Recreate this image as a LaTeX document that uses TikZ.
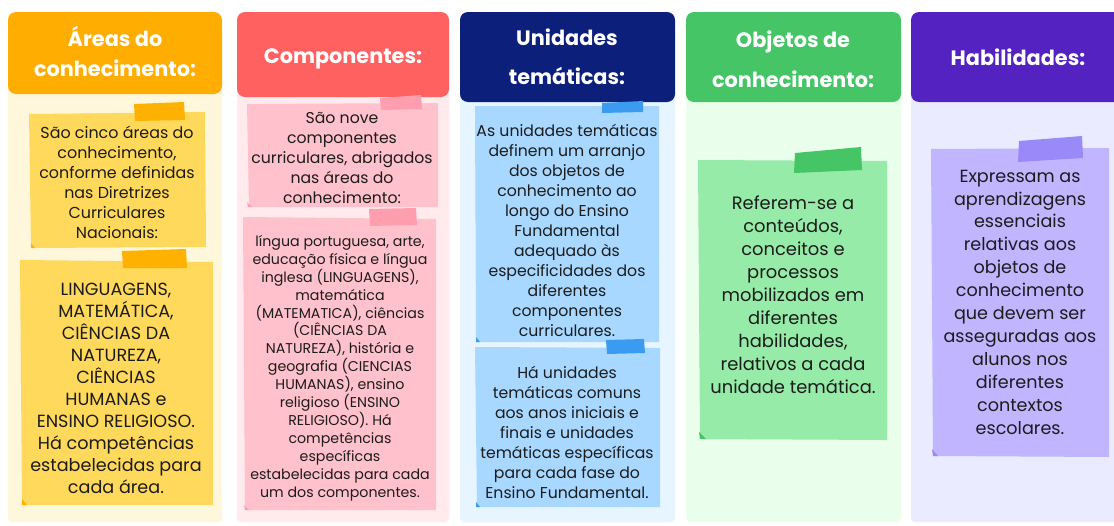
\documentclass[tikz,border=0pt]{standalone}
\usepackage{fontspec}
\setmainfont{Poppins}
\definecolor{txt}{HTML}{1C1C1C}
\definecolor{hA}{HTML}{FFAD00}
\definecolor{bgA}{HTML}{FFF7DB}
\definecolor{stA}{HTML}{FFD95C}
\definecolor{tpA}{HTML}{FFB100}
\definecolor{hB}{HTML}{FF6161}
\definecolor{bgB}{HTML}{FFEBEE}
\definecolor{stB}{HTML}{FFC1CB}
\definecolor{tpB}{HTML}{FF9EAE}
\definecolor{hC}{HTML}{0C1F7A}
\definecolor{bgC}{HTML}{E6F5FF}
\definecolor{stC}{HTML}{A8D8FF}
\definecolor{tpC}{HTML}{3A9BF0}
\definecolor{hD}{HTML}{45C566}
\definecolor{bgD}{HTML}{E9FFEC}
\definecolor{stD}{HTML}{95EBA7}
\definecolor{tpD}{HTML}{45C566}
\definecolor{hE}{HTML}{5522C2}
\definecolor{bgE}{HTML}{EAEBFF}
\definecolor{stE}{HTML}{C1B5FF}
\definecolor{tpE}{HTML}{9A89F8}
\tikzset{
  hdrtext/.style={text=white, align=center, inner sep=0pt, font=\bfseries\fontsize{20.8}{30}\selectfont},
  notetext/.style={text=txt, align=center, inner sep=0pt},
  colbg/.style={rounded corners=4pt},
  hdrbox/.style={rounded corners=8pt},
}
\begin{document}
\begin{tikzpicture}[x=1pt,y=-1pt]
\useasboundingbox (0,0) rectangle (1114,525);
\fill[white] (0,0) rectangle (1114,525);
% ---------- column backgrounds ----------
\fill[bgA, colbg] (8,30) rectangle (222,522);
\fill[bgB, colbg] (237,30) rectangle (449,522);
\fill[bgC, colbg] (460,30) rectangle (675,522);
\fill[bgD, colbg] (686,30) rectangle (901,522);
\fill[bgE, colbg] (911,30) rectangle (1120,522);
% ---------- headers ----------
\fill[hA, hdrbox] (8,12) rectangle (222,94);
\fill[hB, hdrbox] (237,12) rectangle (449,97);
\fill[hC, hdrbox] (460,12) rectangle (675,102);
\fill[hD, hdrbox] (686,12) rectangle (901,102);
\fill[hE, hdrbox] (911,12) rectangle (1124,102);
\node[hdrtext] (h1) at (115,51) {Áreas do\\conhecimento:};
\node[hdrtext] (h2) at (343,59) {Componentes:};
\node[hdrtext, font=\bfseries\fontsize{20.8}{39}\selectfont] (h3) at (567,57) {Unidades\\temáticas:};
\node[hdrtext, font=\bfseries\fontsize{20.8}{40}\selectfont] (h4) at (793,59) {Objetos de\\conhecimento:};
\node[hdrtext] (h5) at (1018,57) {Habilidades:};
% ---------- column 1 ----------
\fill[stA] (29,114) -- (205,112) -- (206,247) -- (31,248) -- cycle;
\fill[tpA] (134,104) -- (184,102) -- (185,120) -- (135,121) -- cycle;
\fill[tpA] (31,243) -- (35,248) -- (31,248) -- cycle;
\node[notetext, font=\fontsize{15.9}{20}\selectfont] (n1a) at (117,182) {São cinco áreas do\\conhecimento,\\conforme definidas\\nas Diretrizes\\Curriculares\\Nacionais:};
\fill[stA] (20,260) -- (213,262) -- (213,505) -- (22,505) -- cycle;
\fill[tpA] (122,251) -- (186,249) -- (187,268) -- (123,268) -- cycle;
\fill[tpA] (22,499) -- (27,505) -- (22,505) -- cycle;
\node[notetext, font=\fontsize{17.6}{22}\selectfont] (n1b) at (116,388) {LINGUAGENS,\\MATEMÁTICA,\\CIÊNCIAS DA\\NATUREZA,\\CIÊNCIAS\\HUMANAS e\\ENSINO RELIGIOSO.\\Há competências\\estabelecidas para\\cada área.};
% ---------- column 2 ----------
\fill[stB] (247,104) -- (438,103) -- (438,207) -- (249,207) -- cycle;
\fill[tpB] (380,98) -- (421,95) -- (422,109) -- (381,110) -- cycle;
\fill[tpB] (247,202) -- (252,207) -- (248,207) -- cycle;
\node[notetext, font=\fontsize{15.7}{20}\selectfont] (n2a) at (342,158) {São nove\\componentes\\curriculares, abrigados\\nas áreas do\\conhecimento:};
\fill[stB] (243,217) -- (436,219) -- (436,510) -- (245,510) -- cycle;
\fill[tpB] (369,209) -- (416,208) -- (417,225) -- (370,226) -- cycle;
\fill[tpB] (244,505) -- (249,510) -- (245,510) -- cycle;
\node[notetext, font=\fontsize{14.2}{17.9}\selectfont] (n2b) at (340,368) {língua portuguesa, arte,\\educação física e língua\\inglesa (LINGUAGENS),\\matemática\\(MATEMATICA), ciências\\(CIÊNCIAS DA\\NATUREZA), história e\\geografia (CIENCIAS\\HUMANAS), ensino\\religioso (ENSINO\\RELIGIOSO). Há\\competências\\específicas\\estabelecidas para cada\\um dos componentes.};
% ---------- column 3 ----------
\fill[stC] (475,106) -- (659,106) -- (659,342) -- (476,342) -- cycle;
\fill[tpC] (602,103) -- (643,101) -- (643,112) -- (602,113) -- cycle;
\fill[tpC] (476,337) -- (480,342) -- (476,342) -- cycle;
\node[notetext, font=\fontsize{15.7}{20}\selectfont] (n3a) at (567,230) {As unidades temáticas\\definem um arranjo\\dos objetos de\\conhecimento ao\\longo do Ensino\\Fundamental\\adequado às\\especificidades dos\\diferentes\\componentes\\curriculares.};
\fill[stC] (475,347) -- (660,348) -- (660,507) -- (477,507) -- cycle;
\fill[tpC] (606,340) -- (644,339) -- (645,353) -- (607,354) -- cycle;
\fill[tpC] (476,502) -- (480,507) -- (476,507) -- cycle;
\node[notetext, font=\fontsize{15.7}{20}\selectfont] (n3b) at (567,432) {Há unidades\\temáticas comuns\\aos anos iniciais e\\finais e unidades\\temáticas específicas\\para cada fase do\\Ensino Fundamental.};
% ---------- column 4 ----------
\fill[stD] (698,160) -- (887,161) -- (887,440) -- (700,439) -- cycle;
\fill[tpD] (795,153) -- (861,147) -- (862,170) -- (794,173) -- cycle;
\fill[tpD] (699,432) -- (706,439) -- (700,439) -- cycle;
\node[notetext, font=\fontsize{17.9}{23}\selectfont] (n4) at (793,295) {Referem-se a\\conteúdos,\\conceitos e\\processos\\mobilizados em\\diferentes\\habilidades,\\relativos a cada\\unidade temática.};
% ---------- column 5 ----------
\fill[stE] (931,149) -- (1109,148) -- (1109,457) -- (933,456) -- cycle;
\fill[tpE] (1019,141) -- (1082,136) -- (1083,158) -- (1018,162) -- cycle;
\fill[tpE] (932,449) -- (938,456) -- (933,456) -- cycle;
\node[notetext, font=\fontsize{17.6}{22.9}\selectfont] (n5) at (1020,302) {Expressam as\\aprendizagens\\essenciais\\relativas aos\\objetos de\\conhecimento\\que devem ser\\asseguradas aos\\alunos nos\\diferentes\\contextos\\escolares.};
\end{tikzpicture}
\end{document}
